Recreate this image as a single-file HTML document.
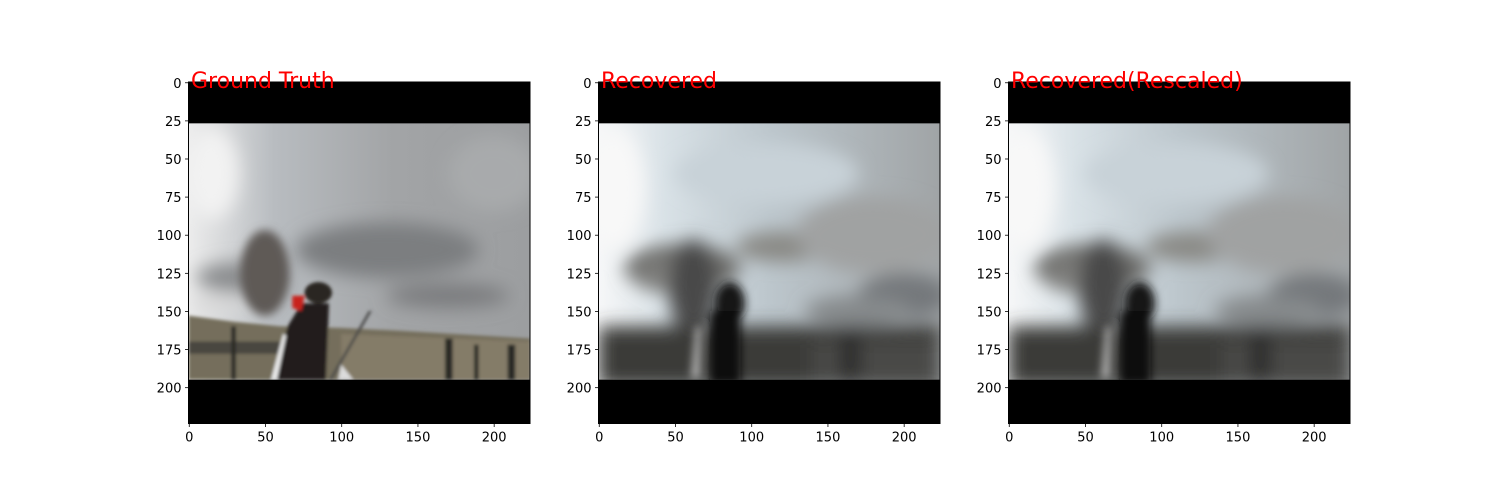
<!DOCTYPE html>
<html><head><meta charset="utf-8"><style>
html,body{margin:0;padding:0;background:#fff;}
svg{display:block;font-family:"DejaVu Sans","Liberation Sans",sans-serif;}
</style></head><body>
<svg id="fig" width="1500" height="500" viewBox="0 0 1500 500" xmlns="http://www.w3.org/2000/svg">
<defs>
  <filter id="b6" x="-30%" y="-30%" width="160%" height="160%"><feGaussianBlur stdDeviation="6"/></filter>
  <filter id="b3" x="-30%" y="-30%" width="160%" height="160%"><feGaussianBlur stdDeviation="3"/></filter>
  <filter id="b1"><feGaussianBlur stdDeviation="1"/></filter>
  <linearGradient id="skyGT" x1="0" x2="1" y1="0" y2="0">
    <stop offset="0" stop-color="#ececec"/><stop offset="0.25" stop-color="#b8bcc0"/><stop offset="0.6" stop-color="#a2a4a6"/><stop offset="1" stop-color="#9c9ea0"/>
  </linearGradient>
  <linearGradient id="skyRC" x1="0" x2="1" y1="0" y2="0">
    <stop offset="0" stop-color="#f6f7f8"/><stop offset="0.2" stop-color="#d8e1e6"/><stop offset="0.5" stop-color="#bcc6cc"/><stop offset="1" stop-color="#a0a4a6"/>
  </linearGradient>
  <clipPath id="imgclip"><rect x="0" y="27" width="224" height="168"/></clipPath>
  <g id="recImg">
    <rect x="0" y="0" width="224" height="224" fill="#000"/>
    <g clip-path="url(#imgclip)">
      <rect x="0" y="27" width="224" height="168" fill="url(#skyRC)"/>
      <g filter="url(#b6)">
        <ellipse cx="55" cy="122" rx="38" ry="16" fill="#6e6e6c"/>
        <ellipse cx="45" cy="128" rx="22" ry="10" fill="#7e7e7c"/>
        <ellipse cx="62" cy="135" rx="16" ry="32" fill="#4a4a4a"/>
        <ellipse cx="120" cy="108" rx="30" ry="10" fill="#8a8a86"/>
        <ellipse cx="180" cy="100" rx="50" ry="25" fill="#a0a2a2"/>
        <ellipse cx="200" cy="140" rx="30" ry="15" fill="#74787c"/>
        <ellipse cx="170" cy="150" rx="35" ry="10" fill="#868a8c"/>
        <ellipse cx="110" cy="60" rx="60" ry="20" fill="#c8d2d8"/>
        <ellipse cx="10" cy="70" rx="20" ry="40" fill="#f8f8f8"/>
        <rect x="0" y="160" width="224" height="40" fill="#3a3a38"/>
        <rect x="140" y="170" width="84" height="30" fill="#484846"/>
        <ellipse cx="165" cy="180" rx="6" ry="20" fill="#262626"/>
      </g>
      <g filter="url(#b3)">
        <ellipse cx="86" cy="145" rx="10" ry="14" fill="#151515"/>
        <rect x="73" y="150" width="20" height="48" fill="#111"/>
        <path d="M61 194 L64 160 L67 160 L66 194 Z" fill="#c8c8c8"/>
      </g>
    </g>
  </g>
</defs>

<g transform="translate(188.5,82) scale(1.5268)">
  <rect x="0" y="0" width="224" height="224" fill="#000"/>
  <g clip-path="url(#imgclip)">
    <rect x="0" y="27" width="224" height="168" fill="url(#skyGT)"/>
    <g filter="url(#b6)">
      <ellipse cx="15" cy="60" rx="18" ry="30" fill="#f2f2f2"/>
      <ellipse cx="130" cy="110" rx="60" ry="18" fill="#7c7e80"/>
      <ellipse cx="35" cy="128" rx="30" ry="10" fill="#8a8c8e"/>
      <ellipse cx="170" cy="140" rx="40" ry="8" fill="#7a7c7e"/>
      <ellipse cx="200" cy="60" rx="30" ry="25" fill="#a8aaac"/>
      <ellipse cx="20" cy="145" rx="20" ry="5" fill="#d8d8d8"/>
    </g>
    <g filter="url(#b3)">
      <ellipse cx="50" cy="125" rx="16" ry="28" fill="#5e5a56"/>
    </g>
    <g filter="url(#b1)">
      <path d="M0 153 L30 157 L60 160 L100 161 L140 163 L224 168 L224 195 L0 195 Z" fill="#756e5c"/>
      <path d="M100 165 L224 170 L224 195 L100 195 Z" fill="#847c68"/>
      <rect x="0" y="170" width="60" height="8" fill="#4a4640"/>
      <rect x="28" y="160" width="3" height="35" fill="#2a2a28"/>
      <rect x="168" y="168" width="5" height="27" fill="#2a2a28"/>
      <rect x="187" y="172" width="3" height="23" fill="#2a2a28"/>
      <rect x="209" y="172" width="5" height="23" fill="#2a2a28"/>
      <ellipse cx="85" cy="138" rx="9" ry="7" fill="#2c2824"/>
      <path d="M74 145 L92 145 L90 195 L55 195 L65 160 Z" fill="#221e1a"/>
      <path d="M54 195 L62 165 L64 166 L58 195 Z" fill="#e8e8e8"/>
      <path d="M68 140 L76 140 L74 150 L68 148 Z" fill="#c8201c"/>
      <path d="M118 150 L92 195 L94 195 L120 150 Z" fill="#4a4a48"/>
      <path d="M100 185 L108 195 L98 195 Z" fill="#dcdcdc"/>
    </g>
  </g>
</g>
<g transform="translate(598.5,82) scale(1.5268)"><use href="#recImg"/></g>
<g transform="translate(1008.5,82) scale(1.5268)"><use href="#recImg"/></g>

<g id="axes"></g>
</svg>
<script>
const panelTitles = ["Ground Truth", "Recovered", "Recovered(Rescaled)"];
const xTicks = [0, 50, 100, 150, 200];
const yTicks = [0, 25, 50, 75, 100, 125, 150, 175, 200];
const imgSize = [224];

const NS = "http://www.w3.org/2000/svg";
const axes = document.getElementById("axes");
const lefts = [188.5, 598.5, 1008.5];
const top0 = 82, size = 341.5;
function sx(v, x0){ return x0 + (v + 0.5) * size / imgSize[0]; }
function sy(v){ return top0 + (v + 0.5) * size / imgSize[0]; }
function mk(tag, attrs, parent){
  const e = document.createElementNS(NS, tag);
  for (const k in attrs) e.setAttribute(k, attrs[k]);
  parent.appendChild(e); return e;
}
panelTitles.forEach((t, i) => {
  const x0 = lefts[i];
  const g = mk("g", {}, axes);
  
  
  const fr = mk("rect", {x: x0, y: top0, width: size, height: size, fill: "none", stroke: "#000", "stroke-width": 1}, g);
  
  
  xTicks.forEach(v => {
    const x = sx(v, x0);
    const l = mk("line", {x1: x, x2: x, y1: top0 + size, y2: top0 + size + 3.5, stroke: "#000", "stroke-width": 0.8}, g);
    
    
    const tx = mk("text", {x: x, y: top0 + size + 18, "text-anchor": "middle", "font-size": 13, fill: "#000"}, g);
    tx.textContent = v;
    
    
  });
  yTicks.forEach(v => {
    const y = sy(v);
    const l = mk("line", {x1: x0 - 3.5, x2: x0, y1: y, y2: y, stroke: "#000", "stroke-width": 0.8}, g);
    
    
    const tx = mk("text", {x: x0 - 7, y: y + 5, "text-anchor": "end", "font-size": 13, fill: "#000"}, g);
    tx.textContent = v;
    
    
  });
  const tt = mk("text", {x: x0 + 2.5, y: 88, "font-size": 22, fill: "#ff0000"}, g);
  tt.textContent = t;
  
  
});
</script>
</body></html>
